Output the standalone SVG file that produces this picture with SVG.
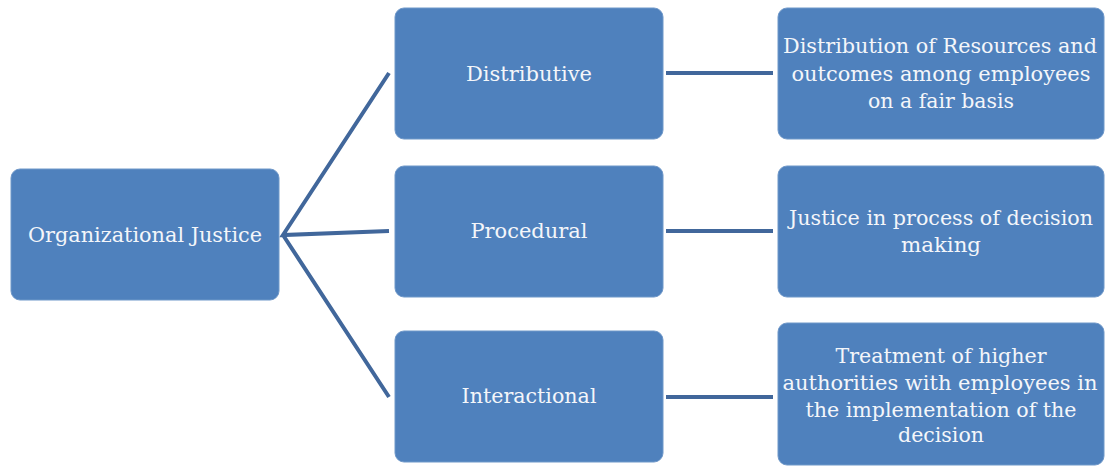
<svg xmlns="http://www.w3.org/2000/svg" width="1105" height="467" viewBox="0 0 1105 467">
<style>
.box{fill:#4f81bd;stroke:#6f98c9;stroke-width:1}
.t{font-family:"DejaVu Serif","Liberation Serif",serif;font-size:20.5px;fill:#f4f6fa;text-anchor:middle}
.c{stroke:#41679b;stroke-width:4;fill:none;stroke-linecap:butt}
</style>
<rect width="1105" height="467" fill="#ffffff"/>
<g id="connectors">
<path class="c" d="M389,73 L283,235 L389,231 M283,235 L389,397"/>
<path class="c" d="M666,73 H773 M666,231 H773 M666,397 H773"/>
</g>
<g id="org-justice">
<rect class="box" x="11" y="169" width="268" height="131" rx="9"/>
<text class="t" x="145" y="242" textLength="234" lengthAdjust="spacingAndGlyphs">Organizational Justice</text>
</g>
<g id="distributive">
<rect class="box" x="395" y="8" width="268" height="131" rx="9"/>
<text class="t" x="529" y="81" textLength="126" lengthAdjust="spacingAndGlyphs">Distributive</text>
</g>
<g id="procedural">
<rect class="box" x="395" y="166" width="268" height="131" rx="9"/>
<text class="t" x="529" y="238" textLength="117" lengthAdjust="spacingAndGlyphs">Procedural</text>
</g>
<g id="interactional">
<rect class="box" x="395" y="331" width="268" height="131" rx="9"/>
<text class="t" x="529" y="403" textLength="135" lengthAdjust="spacingAndGlyphs">Interactional</text>
</g>
<g id="distributive-desc">
<rect class="box" x="778" y="8" width="326" height="131" rx="9"/>
<text class="t" x="940" y="53" textLength="314" lengthAdjust="spacingAndGlyphs">Distribution of Resources and</text>
<text class="t" x="941" y="81" textLength="299" lengthAdjust="spacingAndGlyphs">outcomes among employees</text>
<text class="t" x="941" y="108" textLength="146" lengthAdjust="spacingAndGlyphs">on a fair basis</text>
</g>
<g id="procedural-desc">
<rect class="box" x="778" y="166" width="326" height="131" rx="9"/>
<text class="t" x="941" y="225" textLength="304" lengthAdjust="spacingAndGlyphs">Justice in process of decision</text>
<text class="t" x="941" y="252" textLength="80" lengthAdjust="spacingAndGlyphs">making</text>
</g>
<g id="interactional-desc">
<rect class="box" x="778" y="323" width="326" height="142" rx="9"/>
<text class="t" x="941" y="363" textLength="211" lengthAdjust="spacingAndGlyphs">Treatment of higher</text>
<text class="t" x="940" y="390" textLength="315" lengthAdjust="spacingAndGlyphs">authorities with employees in</text>
<text class="t" x="941" y="417" textLength="271" lengthAdjust="spacingAndGlyphs">the implementation of the</text>
<text class="t" x="941" y="442" textLength="86" lengthAdjust="spacingAndGlyphs">decision</text>
</g>
</svg>
